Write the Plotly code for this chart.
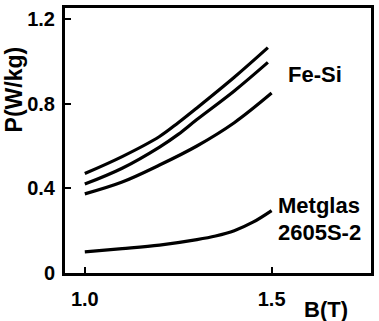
import plotly.graph_objects as go

B_fesi_a = [1.0, 1.1, 1.2, 1.25, 1.3, 1.4, 1.49]
P_fesi_a = [0.47, 0.55, 0.645, 0.71, 0.78, 0.925, 1.065]

B_fesi_b = [1.0, 1.1, 1.2, 1.25, 1.3, 1.4, 1.49]
P_fesi_b = [0.42, 0.495, 0.595, 0.655, 0.725, 0.86, 0.995]

B_fesi_c = [1.0, 1.1, 1.2, 1.3, 1.4, 1.5]
P_fesi_c = [0.374, 0.43, 0.51, 0.60, 0.71, 0.85]

B_met = [1.0, 1.1, 1.2, 1.3, 1.35, 1.4, 1.45, 1.5]
P_met = [0.10, 0.115, 0.132, 0.158, 0.175, 0.2, 0.24, 0.295]

x_ticks = [1.0, 1.5]
x_ticktext = ["1.0", "1.5"]
y_ticks = [0, 0.4, 0.8, 1.2]
y_ticktext = ["0", "0.4", "0.8", "1.2"]

FONT = "Liberation Sans"

fig = go.Figure()
for xs, ys in [(B_fesi_a, P_fesi_a), (B_fesi_b, P_fesi_b), (B_fesi_c, P_fesi_c), (B_met, P_met)]:
    fig.add_trace(go.Scatter(x=xs, y=ys, mode="lines", line=dict(color="black", width=3.2, shape="spline"),
                             showlegend=False, hoverinfo="skip"))

L, T, W, H = 65, 5, 308, 268


def px(x, y):
    return (x - L) / W, (T + H - y) / H


def ann(text, x, y, size, **kw):
    xp, yp = px(x, y)
    return dict(text=text, xref="paper", yref="paper", x=xp, y=yp, showarrow=False,
                xanchor="center", yanchor="middle",
                font=dict(family=FONT, size=size, weight="bold", color="black"), **kw)


fig.update_layout(
    width=379, height=321,
    margin=dict(l=L, r=379 - L - W, t=T, b=321 - T - H),
    paper_bgcolor="white", plot_bgcolor="white",
    font=dict(family=FONT, size=20, color="black", weight="bold"),
    xaxis=dict(range=[0.947, 1.766], tickvals=x_ticks, ticktext=x_ticktext,
               ticks="inside", ticklen=6, tickwidth=2, tickcolor="black",
               showline=True, linecolor="black", linewidth=3, mirror=True,
               showgrid=False, zeroline=False, ticklabelstandoff=6,
               tickfont=dict(family=FONT, size=20, weight="bold")),
    yaxis=dict(range=[0, 1.252], tickvals=y_ticks, ticktext=y_ticktext,
               ticks="inside", ticklen=6, tickwidth=2, tickcolor="black",
               showline=True, linecolor="black", linewidth=3, mirror=True,
               showgrid=False, zeroline=False, ticklabelstandoff=3,
               tickfont=dict(family=FONT, size=20, weight="bold")),
    annotations=[
        ann("Fe-Si", 317, 72, 22),
        ann("Metglas", 321, 205, 22),
        ann("2605S-2", 321, 232, 22),
        ann("B(T)", 328, 310, 22),
        ann("P(W/kg)", 14, 87, 23, textangle=-90),
    ],
)

fig.write_html("out.html")
